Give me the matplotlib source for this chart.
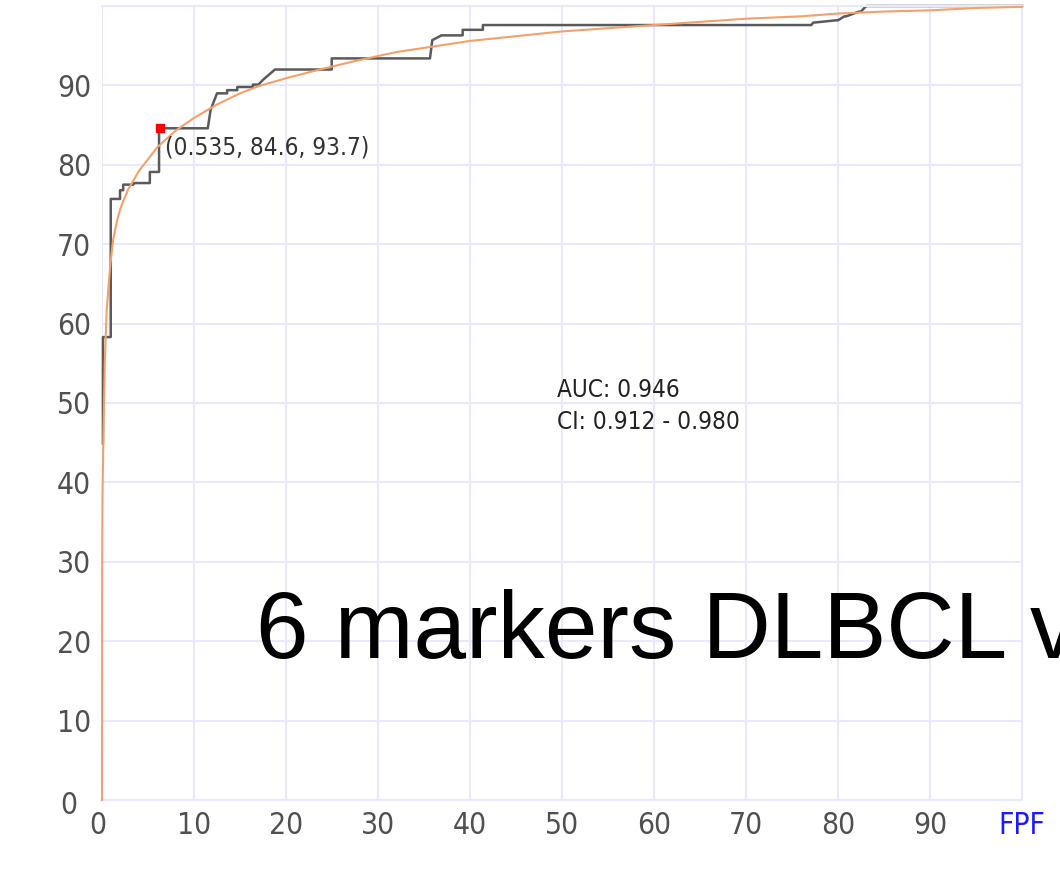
import matplotlib.pyplot as plt
from matplotlib.transforms import ScaledTranslation

# empirical ROC (step curve), FPF / TPF in %
emp_fpf = [0.1, 0.1, 0.95, 0.95, 1.96, 1.96, 2.3, 2.3, 3.4, 3.4, 5.2, 5.2, 6.2, 6.2,
           11.5, 11.8, 12.5, 13.6, 13.6, 14.7, 14.7, 16.4, 16.4, 17.0, 17.5, 18.8,
           24.97, 24.97, 35.65, 35.9, 36.9, 39.2, 39.2, 41.4, 41.4,
           77.1, 77.3, 79.8, 80.0, 80.7, 80.9, 82.3, 82.5, 82.9, 83.1, 100.0]
emp_tpf = [44.9, 58.3, 58.3, 75.7, 75.7, 76.8, 76.8, 77.5, 77.5, 77.7, 77.7, 79.1, 79.1, 84.6,
           84.6, 86.9, 89.0, 89.0, 89.4, 89.4, 89.8, 89.8, 90.1, 90.1, 90.7, 92.0,
           92.0, 93.4, 93.4, 95.7, 96.3, 96.3, 97.0, 97.0, 97.6,
           97.6, 97.9, 98.2, 98.2, 98.7, 98.7, 99.3, 99.3, 99.8, 100.0, 100.0]

# fitted ROC
fit_fpf = [0, 0.02, 0.05, 0.14, 0.3, 0.5, 0.87, 1.2, 1.6, 2.0, 2.8, 4.0, 6.0, 8.0,
           10.0, 12.5, 15.0, 17.0, 20.0, 24.0, 28.0, 32.0, 36.0, 40.0, 45.0, 50.0,
           55.0, 60.0, 65.0, 70.0, 76.0, 80.0, 85.0, 90.0, 95.0, 100.0]
fit_tpf = [0, 30.0, 38.0, 45.0, 55.0, 61.5, 67.0, 70.5, 72.8, 74.5, 76.8, 79.2, 82.2, 84.3,
           85.9, 87.6, 89.0, 89.9, 90.9, 92.1, 93.2, 94.2, 94.9, 95.6, 96.2, 96.8,
           97.2, 97.6, 98.0, 98.4, 98.7, 99.05, 99.3, 99.45, 99.75, 99.9]

cut_fpf = 6.3
cut_tpf = 84.6
cut_label = '(0.535, 84.6, 93.7)'
auc_text = 'AUC: 0.946\nCI: 0.912 - 0.980'

grid_col = '#e8e8ff'
txt_col = '#505050'
fkw = dict(family='DejaVu Sans', stretch='condensed')

fig = plt.figure(figsize=(10.6, 8.85), dpi=100)
ax = fig.add_axes([102 / 1060, 85 / 885, 920 / 1060, 794 / 885])

ax.plot(fit_fpf, fit_tpf, color='#f5a06a', linewidth=1.5, zorder=3, clip_on=False)
ax.plot(emp_fpf, emp_tpf, color='#5a5a5a', linewidth=1.8, zorder=2, clip_on=False)
ax.plot([cut_fpf], [cut_tpf], marker='s', color='red', markersize=6, zorder=4)
ax.text(cut_fpf + 0.6, cut_tpf - 2.4, cut_label, fontsize=17.5, color='#333333',
        va='center', ha='left', **fkw)
ax.text(49.5, 49.6, auc_text, fontsize=17.5, color='#222222',
        va='center', ha='left', linespacing=1.4, **fkw)

ax.set_xlim(0, 100)
ax.set_ylim(0, 100)
ax.set_xticks(range(0, 101, 10))
ax.set_yticks(range(0, 91, 10))
ax.set_xticklabels([str(v) for v in range(0, 91, 10)] + ['FPF'])
ax.grid(color=grid_col, linewidth=1.5)
ax.set_axisbelow(True)
for s in ax.spines.values():
    s.set_color(grid_col)
    s.set_linewidth(1.5)
ax.spines['left'].set_visible(False)
ax.tick_params(length=0, labelsize=21.5, labelcolor=txt_col, pad=8)
for lab in ax.get_xticklabels() + ax.get_yticklabels():
    lab.set_family('DejaVu Sans')
    lab.set_stretch('condensed')
ax.get_xticklabels()[-1].set_color('#1a1aff')
ax.get_xticklabels()[0].set_transform(
    ax.get_xticklabels()[0].get_transform() + ScaledTranslation(-0.04, 0, fig.dpi_scale_trans))
ax.get_yticklabels()[0].set_transform(
    ax.get_yticklabels()[0].get_transform() + ScaledTranslation(-0.14, -0.02, fig.dpi_scale_trans))

# TPF label, mostly cut off at the top edge
fig.text(77 / 1060, 1 - 5 / 885, 'TPF', fontsize=21.5, color='#1a1aff',
         ha='center', va='bottom', **fkw)

fig.text(256 / 1060, 1 - 658 / 885, '6 markers DLBCL vs', fontsize=68,
         family=['Liberation Sans', 'DejaVu Sans'], color='black', ha='left', va='baseline')

fig.savefig('out.png', dpi=100)
